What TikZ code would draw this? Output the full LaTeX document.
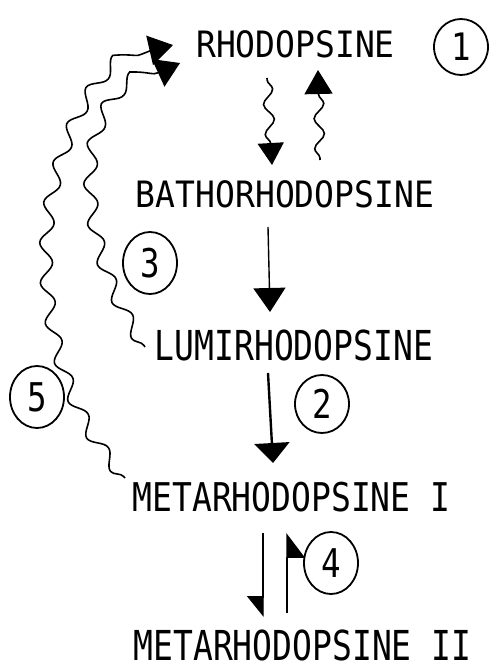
\documentclass[tikz,border=0pt]{standalone}
\usepackage{fontspec}
\newfontfamily\tw{DejaVu Sans Mono}
\usetikzlibrary{arrows.meta,decorations.pathmorphing,shapes.geometric,calc}
\begin{document}
\begin{tikzpicture}[x=1pt,y=-1pt,
  lbl/.style={inner sep=0pt, font=\tw\fontsize{33}{36}\selectfont},
  num/.style={draw, ellipse, line width=1.8pt, inner sep=0pt, minimum width=54pt, minimum height=62pt, font=\tw\fontsize{36}{40}\selectfont},
  line/.style={line width=1.4pt},
  wave/.style={line width=1.6pt, decorate, decoration={snake, amplitude=6.5pt, segment length=40pt, post length=20pt, pre length=2pt}},
]
\useasboundingbox (0,0) rectangle (490,669);

% species
\node[lbl] (rho)   at (295.5,44.5) {\scalebox{1}[1.1]{RHODOPSINE}};
\node[lbl] (batho) at (285,194.5)  {\scalebox{1}[1.1]{BATHORHODOPSINE}};
\node[lbl] (lumi)  at (294,345)    {\scalebox{1}[1.25]{LUMIRHODOPSINE}};
\node[lbl] (metaA) at (291.5,497.5){\scalebox{1}[1.2]{METARHODOPSINE I}};
\node[lbl] (metaB) at (302.5,645)  {\scalebox{1}[1.25]{METARHODOPSINE II}};

% numbered circles
\node[num, minimum height=56pt] (n1) at (461,47)  {\scalebox{0.9}[1.05]{1}};
\node[num, minimum height=58pt] (n2) at (322,404) {\scalebox{0.9}[1.1]{2}};
\node[num] (n3) at (150,263) {\scalebox{0.9}[1.1]{3}};
\node[num] (n4) at (331,563) {\scalebox{0.9}[1.1]{4}};
\node[num] (n5) at (37,397)  {\scalebox{0.9}[1.1]{5}};

% endpoints
\coordinate (rd0) at (267,78);   \coordinate (rd1) at (272,165);
\coordinate (ru0) at (320,160);  \coordinate (ru1) at (318,70);
\coordinate (bl0) at (268,227);  \coordinate (bl1) at (270,312);
\coordinate (lm0) at (268,373);  \coordinate (lm1) at (273,463);
\coordinate (h10) at (263,533);  \coordinate (h11) at (263,617);
\coordinate (h20) at (287,613);  \coordinate (h21) at (287,533);
\coordinate (w30) at (145,347);  \coordinate (w31) at (180,63);
\coordinate (w50) at (125,478);  \coordinate (w51) at (173,45);

% light reactions rhodopsine <-> bathorhodopsine
\draw[wave, decoration={segment length=30pt, amplitude=5pt}, -{Triangle[length=22pt,width=26pt]}] (rd0) -- (rd1);
\draw[wave, decoration={segment length=30pt, amplitude=5pt}, -{Triangle[length=24pt,width=28pt]}] (ru0) -- (ru1);

% thermal steps
\draw[line, -{Triangle[length=24pt,width=32pt]}] (bl0) -- (bl1);
\draw[line width=2.4pt, -{Triangle[length=20pt,width=35pt]}] (lm0) -- (lm1);

% meta I <-> meta II
\draw[line, -{Triangle[harpoon,swap,length=20pt,width=32pt]}] (h10) -- (h11);
\draw[line, -{Triangle[harpoon,swap,length=24pt,width=36pt]}] (h20) -- (h21);

% photoreversal arrows
\draw[wave, -{Triangle[length=24pt,width=30pt]}] (w30)
  .. controls (100,280) and (80,180) .. (110,120)
  .. controls (125,92) and (150,75) .. (w31);
\draw[wave, -{Triangle[length=24pt,width=30pt]}] (w50)
  .. controls (55,400) and (35,260) .. (68,165)
  .. controls (85,110) and (120,50) .. (w51);
\end{tikzpicture}
\end{document}
